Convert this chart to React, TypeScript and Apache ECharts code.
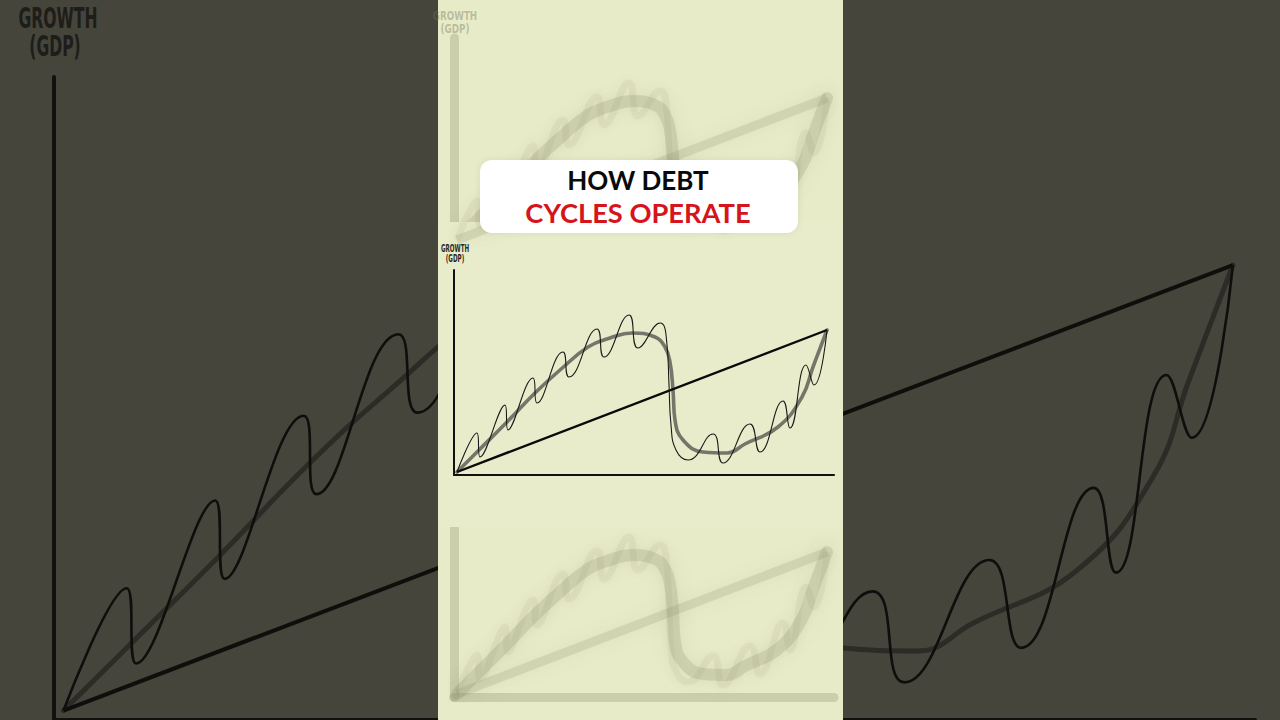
import React, { useEffect, useRef } from "react";
import * as echarts from "echarts";

// Straight trend line (long-term productivity growth)
const lineX = [3, 373];
const lineY = [3, 145];

// Long-term debt cycle (thick grey curve)
const trendX = [3, 24, 52, 81, 106, 134, 156, 178, 201, 211, 216, 219, 221, 229, 249, 273, 291, 324, 348, 359, 373];
const trendY = [3, 24, 52, 82, 105, 128, 137, 142, 138, 128, 113, 85, 55, 35, 23, 22, 31, 48, 78, 108, 145];

// Short-term debt cycles (thin wavy line)
const waveX = [3, 23, 26, 51, 54, 79, 83, 109, 115, 143, 150, 175, 184, 206, 213, 215, 217, 222, 234, 259, 269, 296, 306, 329, 336, 352, 360, 373];
const waveY = [3, 42, 18, 70, 45, 97, 72, 123, 98, 146, 118, 160, 127, 152, 130, 90, 50, 25, 15, 41, 12, 51, 23, 74, 47, 110, 90, 145];

const axisLabelTop = "GROWTH";
const axisLabelBottom = "(GDP)";
const titleTop = "HOW DEBT";
const titleBottom = "CYCLES OPERATE";

const pairs = (xs: number[], ys: number[]) => xs.map((x, i) => [x, ys[i]]);

export default function App() {
  const ref = useRef<HTMLDivElement>(null);
  useEffect(() => {
    document.body.style.margin = "0";
    const chart = echarts.init(ref.current!, null, { renderer: "svg" });

    const grids = [
      { left: 54, top: 77, width: 1201, height: 648 }, // zoomed dark background
      { left: 454, top: 270, width: 380, height: 205 }, // sharp main chart
      { left: 454, top: 38, width: 380, height: 205 }, // blurred copy above
      { left: 454, top: 492, width: 380, height: 205 }, // blurred copy below
    ];

    const blurAxis = { color: "rgba(135,140,105,0.3)", width: 9, z: 6 };
    const axisStyles: any[] = [
      { color: "#111110", width: 4, z: 1 },
      { color: "#111", width: 2, z: 9 },
      blurAxis,
      blurAxis,
    ];

    const mkAxis = (i: number, max: number) => {
      const { z, ...ls } = axisStyles[i];
      return {
        type: "value",
        gridIndex: i,
        min: 0,
        max,
        z,
        axisLine: { show: true, onZero: false, lineStyle: ls },
        axisTick: { show: false },
        axisLabel: { show: false },
        splitLine: { show: false },
      };
    };

    const blurLine = {
      line: { color: "rgba(135,140,105,0.2)", width: 9, shadowBlur: 14, shadowColor: "rgba(120,125,90,0.55)" },
      trend: { color: "rgba(135,140,105,0.22)", width: 12, shadowBlur: 16, shadowColor: "rgba(120,125,90,0.6)" },
      wave: { color: "rgba(135,140,105,0.1)", width: 7, shadowBlur: 10, shadowColor: "rgba(120,125,90,0.25)" },
      z: 6,
    };
    const seriesStyles: any[] = [
      {
        line: { color: "#0e0e0c", width: 4 },
        trend: { color: "#2c2c27", width: 5 },
        wave: { color: "#0e0e0c", width: 2.6 },
        z: 2,
      },
      {
        line: { color: "#0a0a0a", width: 2.4 },
        trend: { color: "rgba(95,97,88,0.85)", width: 3.6 },
        wave: { color: "#1a1a1a", width: 1.1 },
        z: 10,
      },
      blurLine,
      blurLine,
    ];

    const series: any[] = [];
    grids.forEach((_, i) => {
      const st = seriesStyles[i];
      series.push({
        type: "line",
        xAxisIndex: i,
        yAxisIndex: i,
        data: pairs(trendX, trendY),
        smooth: 0.45,
        showSymbol: false,
        z: st.z,
        lineStyle: { ...st.trend, cap: "round" },
      });
      series.push({
        type: "line",
        xAxisIndex: i,
        yAxisIndex: i,
        data: pairs(lineX, lineY),
        showSymbol: false,
        z: st.z + 1,
        lineStyle: { ...st.line },
      });
      series.push({
        type: "line",
        xAxisIndex: i,
        yAxisIndex: i,
        data: pairs(waveX, waveY),
        smooth: 0.5,
        showSymbol: false,
        z: st.z + 2,
        lineStyle: { ...st.wave },
      });
    });

    const condensed = "'DejaVu Sans Condensed', 'Liberation Sans Narrow', sans-serif";
    const txt = (text: string, x: number, y: number, size: number, fill: string, z: number, extra: any = {}, scaleX = 0.62) => ({
      type: "text",
      x,
      y,
      scaleX,
      z,
      style: {
        text,
        x: 0,
        y: 0,
        fill,
        fontFamily: condensed,
        fontWeight: "bold",
        fontSize: size,
        align: "center",
        verticalAlign: "middle",
        textAlign: "center",
        textVerticalAlign: "middle",
        ...extra,
      },
    });

    const option: any = {
      animation: false,
      backgroundColor: "#45453b",
      grid: grids.map((g) => ({ ...g, containLabel: false })),
      xAxis: grids.map((_, i) => mkAxis(i, 380)),
      yAxis: grids.map((_, i) => mkAxis(i, 205)),
      series,
      graphic: [
        // big zoomed axis label on the dark background
        txt(axisLabelTop, 58, 18, 28, "#1d1d19", 1),
        txt(axisLabelBottom, 55, 46, 28, "#1d1d19", 1),
        // pale centre column
        {
          type: "rect",
          z: 5,
          shape: { x: 438, y: 0, width: 405, height: 720 },
          style: { fill: "#e8ebc8" },
        },
        // blurred label blob above
        txt(axisLabelTop + "\n" + axisLabelBottom, 455, 22, 13, "rgba(110,115,85,0.4)", 6, {
          shadowBlur: 10,
          shadowColor: "rgba(105,110,80,0.8)",
        }, 0.75),
        // sharp picture area
        {
          type: "rect",
          z: 7,
          shape: { x: 438, y: 222, width: 405, height: 305 },
          style: { fill: "#e9ecca" },
        },
        // small axis label
        txt(axisLabelTop, 455, 248, 10, "#2a2a26", 11),
        txt(axisLabelBottom, 455, 258, 10, "#2a2a26", 11),
        // title card
        {
          type: "rect",
          z: 20,
          shape: { x: 480, y: 160, width: 318, height: 73, r: 12 },
          style: { fill: "#ffffff", shadowBlur: 6, shadowColor: "rgba(0,0,0,0.08)" },
        },
        {
          type: "text",
          x: 638,
          y: 180,
          z: 21,
          style: {
            text: titleTop,
            x: 0,
            y: 0,
            fill: "#0a0a0a",
            fontFamily: "Lato, 'Open Sans', sans-serif",
            fontWeight: "bold",
            fontSize: 26,
            align: "center",
            verticalAlign: "middle",
            textAlign: "center",
            textVerticalAlign: "middle",
          },
        },
        {
          type: "text",
          x: 638,
          y: 213,
          z: 21,
          scaleX: 1.05,
          style: {
            text: titleBottom,
            x: 0,
            y: 0,
            fill: "#d6141b",
            fontFamily: "Lato, 'Open Sans', sans-serif",
            fontWeight: "bold",
            fontSize: 26,
            align: "center",
            verticalAlign: "middle",
            textAlign: "center",
            textVerticalAlign: "middle",
          },
        },
      ],
    };
    chart.setOption(option);
    return () => chart.dispose();
  }, []);

  return (
    <div
      ref={ref}
      style={{ position: "absolute", left: 0, top: 0, width: 1280, height: 720 }}
    />
  );
}
